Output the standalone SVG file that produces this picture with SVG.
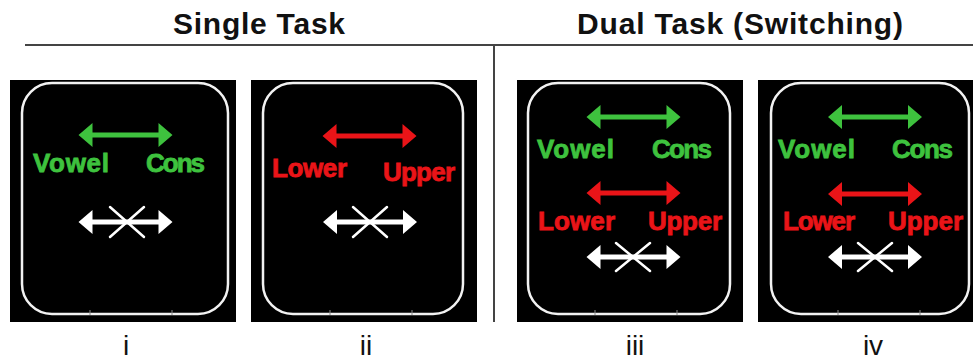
<svg xmlns="http://www.w3.org/2000/svg" xmlns:xlink="http://www.w3.org/1999/xlink" width="973" height="362" viewBox="0 0 973 362">
<style>
.title{font-family:"Liberation Sans",Arial,sans-serif;font-weight:bold;font-size:30px;fill:#111}
.num{font-family:"Liberation Sans",Arial,sans-serif;font-size:28px;fill:#111;text-anchor:middle}
.lbl{font-family:"Liberation Sans",Arial,sans-serif;font-weight:bold;font-size:26px;stroke-width:0.8px}
.g{fill:#3ec23e;stroke:#3ec23e}
.r{fill:#ea1418;stroke:#ea1418}
.panel{fill:#000}
.frame{fill:none;stroke:#f2f2f2;stroke-width:2.5}
.tick{stroke:#888;stroke-width:1}
.x{stroke:#fff;stroke-width:2.5;stroke-linecap:round}
.rule{stroke:#444;stroke-width:2}
</style>
<defs>
<path id="dbl" d="M -47 0 L -33 -12 L -33 -2.5 L 33 -2.5 L 33 -12 L 47 0 L 33 12 L 33 2.5 L -33 2.5 L -33 12 Z"/>
</defs>
<rect width="973" height="362" fill="#fff"/>
<g id="header">
<text class="title" x="259" y="34" text-anchor="middle" textLength="172">Single Task</text>
<text class="title" x="740" y="34" text-anchor="middle" textLength="326">Dual Task (Switching)</text>
</g>
<g id="connectors">
<line class="rule" x1="25" y1="45" x2="973" y2="45"/>
<line class="rule" x1="494" y1="45" x2="494" y2="322"/>
</g>
<g id="panel-i">
<rect class="panel" x="10" y="80" width="226" height="242"/>
<rect class="frame" x="22" y="83" width="206" height="231" rx="30"/>
<line class="tick" x1="90" y1="310" x2="90" y2="315"/>
<line class="tick" x1="172" y1="310" x2="172" y2="315"/>
<use xlink:href="#dbl" x="125.5" y="135" fill="#3ec23e"/>
<text class="lbl g" x="33" y="172" textLength="76">Vowel</text>
<text class="lbl g" x="146" y="172" textLength="59">Cons</text>
<use xlink:href="#dbl" x="125.5" y="222" fill="#fff"/>
<line class="x" x1="110" y1="207" x2="144" y2="237"/>
<line class="x" x1="144" y1="207" x2="110" y2="237"/>
<text class="num" x="126" y="355">i</text>
</g>
<g id="panel-ii">
<rect class="panel" x="251" y="80" width="226" height="242"/>
<rect class="frame" x="263" y="83" width="200" height="231" rx="30"/>
<line class="tick" x1="330" y1="310" x2="330" y2="315"/>
<line class="tick" x1="412" y1="310" x2="412" y2="315"/>
<use xlink:href="#dbl" x="369.5" y="136" fill="#ea1418"/>
<text class="lbl r" x="272" y="177" textLength="75">Lower</text>
<text class="lbl r" x="383" y="181" textLength="72">Upper</text>
<use xlink:href="#dbl" x="370" y="222" fill="#fff"/>
<line class="x" x1="353" y1="207" x2="387" y2="237"/>
<line class="x" x1="387" y1="207" x2="353" y2="237"/>
<text class="num" x="366" y="355">ii</text>
</g>
<g id="panel-iii">
<rect class="panel" x="517" y="80" width="226" height="242"/>
<rect class="frame" x="528" y="83" width="202" height="231" rx="30"/>
<line class="tick" x1="595" y1="310" x2="595" y2="315"/>
<line class="tick" x1="677" y1="310" x2="677" y2="315"/>
<use xlink:href="#dbl" x="633.5" y="117" fill="#3ec23e"/>
<text class="lbl g" x="537" y="158" textLength="77">Vowel</text>
<text class="lbl g" x="652" y="158" textLength="60">Cons</text>
<use xlink:href="#dbl" x="633.5" y="193" fill="#ea1418"/>
<text class="lbl r" x="538" y="230" textLength="77">Lower</text>
<text class="lbl r" x="648" y="230" textLength="74">Upper</text>
<use xlink:href="#dbl" x="633.5" y="257" fill="#fff"/>
<line class="x" x1="616" y1="243" x2="650" y2="271"/>
<line class="x" x1="650" y1="243" x2="616" y2="271"/>
<text class="num" x="635" y="355">iii</text>
</g>
<g id="panel-iv">
<rect class="panel" x="758" y="80" width="215" height="242"/>
<rect class="frame" x="771" y="83" width="198" height="231" rx="30"/>
<line class="tick" x1="838" y1="310" x2="838" y2="315"/>
<line class="tick" x1="920" y1="310" x2="920" y2="315"/>
<use xlink:href="#dbl" x="875" y="117" fill="#3ec23e"/>
<text class="lbl g" x="778" y="158" textLength="77">Vowel</text>
<text class="lbl g" x="892" y="158" textLength="61">Cons</text>
<use xlink:href="#dbl" x="875" y="194" fill="#ea1418"/>
<text class="lbl r" x="783" y="230" textLength="72">Lower</text>
<text class="lbl r" x="888" y="230" textLength="75">Upper</text>
<use xlink:href="#dbl" x="875" y="257" fill="#fff"/>
<line class="x" x1="858" y1="243" x2="892" y2="271"/>
<line class="x" x1="892" y1="243" x2="858" y2="271"/>
<text class="num" x="873" y="355">iv</text>
</g>
</svg>
